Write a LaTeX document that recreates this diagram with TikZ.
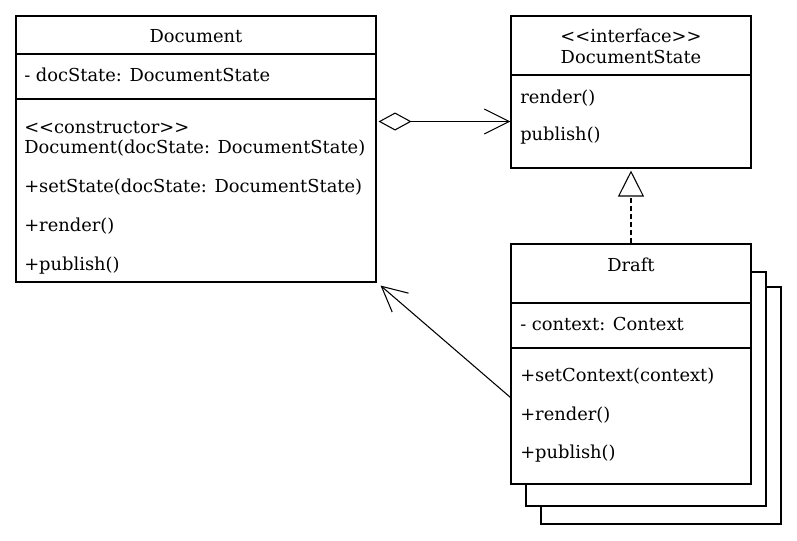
\documentclass[tikz,border=0pt]{standalone}
\usepackage{fontspec}
\setmainfont{DejaVu Serif}
\usetikzlibrary{arrows.meta,calc}

\tikzset{
	part/.style={draw, rectangle, fill=white, inner sep=0pt, line width=0.8pt},
	member/.style={anchor=base west, inner sep=0pt},
	heading/.style={anchor=base, inner sep=0pt},
	aggr/.style={line width=0.8pt, {Diamond[open,length=24.75pt,width=13.5pt]}-{Straight Barb[length=18.75pt,width=18.75pt]}},
	assoc/.style={line width=0.8pt, -{Straight Barb[length=18.75pt,width=18.75pt]}},
	realize/.style={line width=0.8pt, dash pattern=on 3.75pt off 2.25pt, -{Triangle[open,length=19.5pt,width=19.5pt]}}
}
\newcommand{\stereo}[1]{<\kern0pt<#1>\kern0pt>}

\begin{document}
\begin{tikzpicture}[x=0.75pt, y=-0.75pt, font=\fontsize{13.4}{16}\selectfont]
	\useasboundingbox (0,0) rectangle (797,540);

	% Document
	\node (doctitle)[part, minimum width=270pt, minimum height=28.5pt] at (196,35) {};
	\node (docattr)[part, minimum width=270pt, minimum height=33.75pt] at (196,76.5) {};
	\node (docops)[part, minimum width=270pt, minimum height=137.25pt] at (196,190.5) {};

	\node (T1)[heading] at (196,42) {Document};
	\node (A1)[member] at (24,81) {- docState: DocumentState};
	\node (O1)[member] at (24,133) {\stereo{constructor}};
	\node (O2)[member] at (24,153) {Document(docState: DocumentState)};
	\node (O3)[member] at (24,192) {+setState(docState: DocumentState)};
	\node (O4)[member] at (24,231.5) {+render()};
	\node (O5)[member] at (24,270.5) {+publish()};

	% DocumentState
	\node (statetitle)[part, minimum width=180pt, minimum height=44.25pt] at (631,45.5) {};
	\node (stateops)[part, minimum width=180pt, minimum height=69.75pt] at (631,121.5) {};

	\node (T2)[heading] at (631,42) {\stereo{interface}};
	\node (T3)[heading] at (631,63) {DocumentState};
	\node (O6)[member] at (520,103) {render()};
	\node (O7)[member] at (520,140.5) {publish()};

	% Draft with its copies behind
	\draw[line width=0.8pt, fill=white] (541,287) rectangle (781,524);
	\draw[line width=0.8pt, fill=white] (526,272) rectangle (766,506);
	\node (drafttitle)[part, minimum width=180pt, minimum height=44.25pt] at (631,273.5) {};
	\node (draftattr)[part, minimum width=180pt, minimum height=33.75pt] at (631,325.5) {};
	\node (draftops)[part, minimum width=180pt, minimum height=102pt] at (631,416) {};

	\node (T4)[heading] at (631,271) {Draft};
	\node (A2)[member] at (520,330.5) {- context: Context};
	\node (O8)[member] at (520,381.5) {+setContext(context)};
	\node (O9)[member] at (520,420) {+render()};
	\node (O10)[member] at (520,458.5) {+publish()};

	\draw[aggr] ($(docops.east |- stateops.west)+(2,0)$) to (stateops.west);
	\draw[realize] (drafttitle.north) to ($(stateops.south)+(0,2)$);
	\draw[assoc] ($(draftops.north west)+(0,50)$) to ($(docops.south east)+(4,3)$);
\end{tikzpicture}
\end{document}
